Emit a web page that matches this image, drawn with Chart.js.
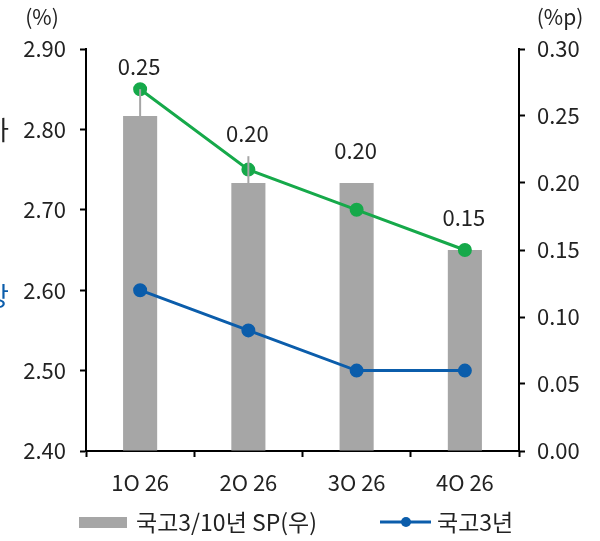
<!DOCTYPE html>
<html>
<head>
<meta charset="utf-8">
<script src="https://cdn.jsdelivr.net/npm/chart.js"></script>
<style>
  body { margin: 0; background: #fff; }
  #wrap { width: 600px; height: 541px; }
</style>
</head>
<body>
<div id="wrap"><canvas id="c"></canvas></div>
<script>
const quarters = ['1Q 26', '2Q 26', '3Q 26', '4Q 26'];
const spread = [0.25, 0.20, 0.20, 0.15];      // 국고3/10년 SP(우), right axis
const spreadErr = [0.02, 0.02, 0, 0];         // thin grey whisker above bars
const ktb3 = [2.60, 2.55, 2.50, 2.50];        // 국고3년
const ktb10 = [2.85, 2.75, 2.70, 2.65];       // green line (legend cut off)
const leftTicks = [2.40, 2.50, 2.60, 2.70, 2.80, 2.90];
const rightTicks = [0.00, 0.05, 0.10, 0.15, 0.20, 0.25, 0.30];

const FONT = '"Noto Sans CJK KR", "Noto Sans", sans-serif';
const GREY = '#a6a6a6', BLUE = '#0b5dab', GREEN = '#16a94a';
const FS = 22;

// whiskers, value labels, units, clipped side text and legend
const extras = {
  id: 'extras',
  afterDatasetsDraw(chart) {
    const ctx = chart.ctx, y1 = chart.scales.y1;
    const bars = chart.getDatasetMeta(0).data;
    ctx.save();
    bars.forEach((b, i) => {
      let top = b.y;
      if (spreadErr[i] > 0) {
        top = y1.getPixelForValue(spread[i] + spreadErr[i]);
        ctx.strokeStyle = GREY; ctx.lineWidth = 2;
        ctx.beginPath(); ctx.moveTo(b.x, b.y); ctx.lineTo(b.x, top); ctx.stroke();
      }
      ctx.fillStyle = '#222'; ctx.font = FS + 'px ' + FONT;
      ctx.textAlign = 'center'; ctx.textBaseline = 'middle';
      const off = spreadErr[i] > 0 ? 23 : 32;
      ctx.fillText(spread[i].toFixed(2), b.x - 1, top - off);
    });
    ctx.restore();
  },
  afterDraw(chart) {
    const ctx = chart.ctx;
    ctx.save();
    ctx.fillStyle = '#222'; ctx.font = '21px ' + FONT; ctx.textBaseline = 'middle';
    ctx.textAlign = 'center';
    ctx.fillText('(%)', 42, 17);
    ctx.fillText('(%p)', 560, 17);
    // clipped text at left edge
    ctx.font = '26px ' + FONT; ctx.textAlign = 'right';
    ctx.fillText('하', 9, 130);
    ctx.fillStyle = BLUE;
    ctx.fillText('상', 9, 296);
    // legend
    const ly = 522;
    ctx.fillStyle = GREY; ctx.fillRect(79, ly - 5, 48, 11);
    ctx.fillStyle = '#222'; ctx.font = '23px ' + FONT; ctx.textAlign = 'left';
    ctx.fillText('국고3/10년 SP(우)', 136, ly);
    ctx.strokeStyle = BLUE; ctx.lineWidth = 3;
    ctx.beginPath(); ctx.moveTo(380, ly); ctx.lineTo(431, ly); ctx.stroke();
    ctx.fillStyle = BLUE; ctx.beginPath(); ctx.arc(406, ly, 5, 0, Math.PI * 2); ctx.fill();
    ctx.fillStyle = '#222';
    ctx.fillText('국고3년', 437, ly);
    ctx.restore();
  }
};

new Chart(document.getElementById('c'), {
  data: {
    labels: quarters,
    datasets: [
      { type: 'bar', label: '국고3/10년 SP(우)', data: spread, yAxisID: 'y1',
        backgroundColor: GREY, barPercentage: 0.63, categoryPercentage: 0.5, order: 3 },
      { type: 'line', label: '국고3년', data: ktb3, yAxisID: 'y',
        borderColor: BLUE, backgroundColor: BLUE, borderWidth: 3,
        pointRadius: 5.5, pointHoverRadius: 5.5, order: 1 },
      { type: 'line', label: '국고10년', data: ktb10, yAxisID: 'y',
        borderColor: GREEN, backgroundColor: GREEN, borderWidth: 3,
        pointRadius: 5.5, pointHoverRadius: 5.5, order: 2 }
    ]
  },
  options: {
    responsive: true, maintainAspectRatio: false, animation: false,
    layout: { padding: { top: 49, bottom: 50, left: 0, right: 0 } },
    plugins: { legend: { display: false }, tooltip: { enabled: false } },
    scales: {
      x: {
        grid: { offset: true, drawOnChartArea: false, color: '#000', tickLength: 6, tickWidth: 2 },
        border: { color: '#000', width: 2 },
        ticks: { color: '#222', font: { size: FS, family: FONT }, padding: 12 },
        afterFit(s) { s.height = 40; }
      },
      y: {
        position: 'left', min: 2.40, max: 2.90,
        afterBuildTicks(s) { s.ticks = leftTicks.map(v => ({ value: v })); },
        grid: { drawOnChartArea: false, color: '#000', tickLength: 6, tickWidth: 2 },
        border: { color: '#000', width: 2 },
        ticks: { color: '#222', font: { size: FS, family: FONT }, padding: 14,
                 callback: v => v.toFixed(2) },
        afterFit(s) { s.width = 86; }
      },
      y1: {
        position: 'right', min: 0, max: 0.30,
        afterBuildTicks(s) { s.ticks = rightTicks.map(v => ({ value: v })); },
        grid: { drawOnChartArea: false, color: '#000', tickLength: 6, tickWidth: 2 },
        border: { color: '#000', width: 2 },
        ticks: { color: '#222', font: { size: FS, family: FONT }, padding: 12,
                 callback: v => v.toFixed(2) },
        afterFit(s) { s.width = 81; }
      }
    }
  },
  plugins: [extras]
});
</script>
</body>
</html>
